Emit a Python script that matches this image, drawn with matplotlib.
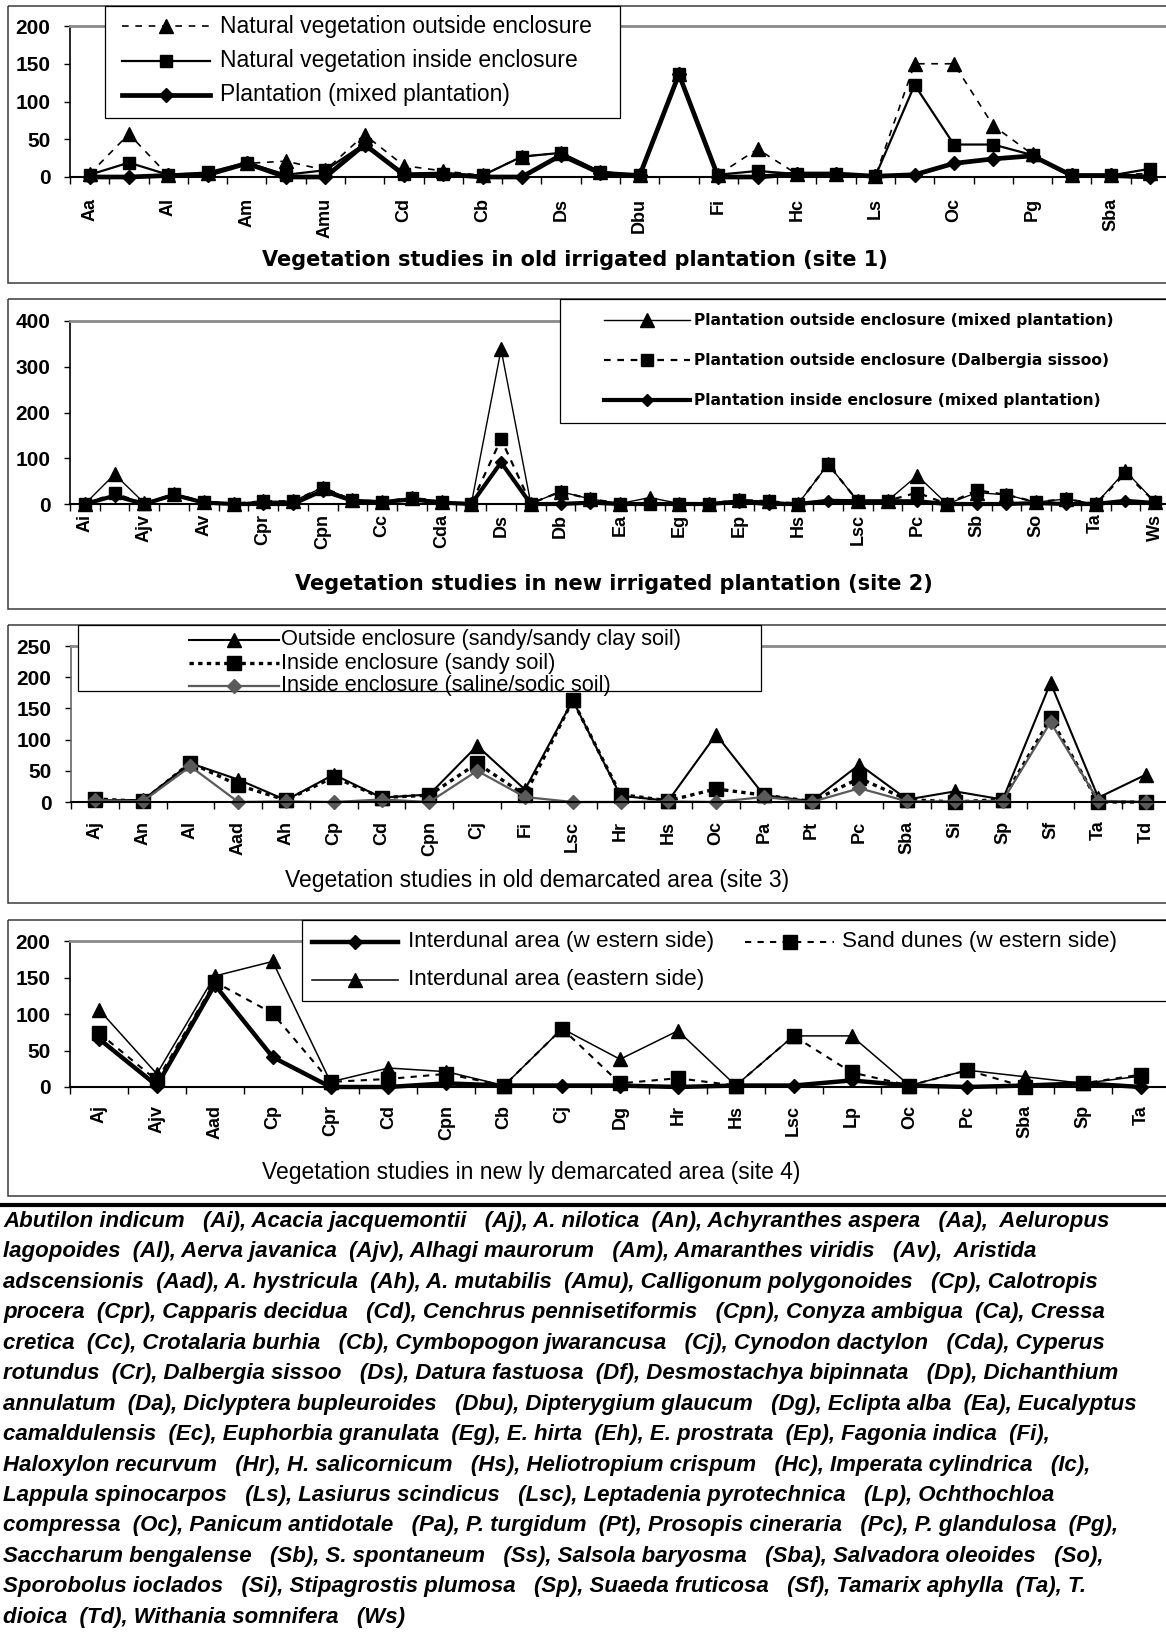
import numpy as np
import matplotlib
matplotlib.use('Agg')
import matplotlib.pyplot as plt
from matplotlib.patches import Rectangle

W, H = 1166, 1641
plt.rcParams['font.family'] = ['Liberation Sans', 'DejaVu Sans']

# ---------------- data ----------------
# Site 1 (every second category is unlabelled in the source)
s1_labels = ['Aa', '', 'Al', '', 'Am', '', 'Amu', '', 'Cd', '', 'Cb', '', 'Ds', '',
             'Dbu', '', 'Fi', '', 'Hc', '', 'Ls', '', 'Oc', '', 'Pg', '', 'Sba', '']
s1_outside = [4, 57, 2, 5, 18, 21, 9, 56, 15, 8, 2, 27, 32, 7, 2, 137, 3, 37, 4, 4, 1, 150, 150, 68, 30, 2, 2, 5]
s1_inside = [3, 19, 3, 6, 19, 3, 9, 44, 4, 4, 2, 27, 32, 7, 2, 136, 3, 8, 4, 4, 1, 122, 43, 43, 29, 2, 2, 11]
s1_plant = [0, 0, 2, 3, 18, 0, 0, 43, 3, 4, 0, 0, 29, 5, 2, 136, 0, 0, 4, 4, 1, 3, 18, 24, 28, 2, 2, 0]
s1_names = ['Natural vegetation outside enclosure', 'Natural vegetation inside enclosure',
            'Plantation (mixed plantation)']

# Site 2
s2_labels = ['Ai', '', 'Ajv', '', 'Av', '', 'Cpr', '', 'Cpn', '', 'Cc', '', 'Cda', '', 'Ds', '',
             'Db', '', 'Ea', '', 'Eg', '', 'Ep', '', 'Hs', '', 'Lsc', '', 'Pc', '', 'Sb', '',
             'So', '', 'Ta', '', 'Ws']
s2_out_mixed = [0, 65, 2, 22, 5, 1, 6, 6, 36, 9, 5, 14, 5, 1, 338, 1, 27, 11, 1, 14, 1, 1, 9, 6, 1,
                87, 6, 7, 62, 0, 25, 20, 4, 11, 0, 72, 4]
s2_out_ds = [0, 23, 1, 22, 5, 1, 6, 6, 36, 9, 5, 14, 5, 1, 142, 1, 27, 11, 1, 1, 1, 1, 9, 6, 1,
             87, 6, 7, 25, 0, 30, 20, 4, 11, 0, 67, 4]
s2_in_mixed = [0, 18, 0, 20, 3, 0, 0, 0, 29, 7, 4, 10, 3, 0, 91, 0, 0, 3, 0, 0, 0, 0, 5, 0, 0,
               7, 6, 6, 6, 0, 0, 0, 2, 0, 0, 7, 2]
s2_names = ['Plantation outside enclosure (mixed plantation)',
            'Plantation outside enclosure (Dalbergia sissoo)',
            'Plantation inside enclosure (mixed plantation)']

# Site 3
s3_labels = ['Aj', 'An', 'Al', 'Aad', 'Ah', 'Cp', 'Cd', 'Cpn', 'Cj', 'Fi', 'Lsc', 'Hr', 'Hs', 'Oc',
             'Pa', 'Pt', 'Pc', 'Sba', 'Si', 'Sp', 'Sf', 'Ta', 'Td']
s3_outside = [3, 3, 62, 36, 3, 44, 7, 12, 90, 20, 163, 10, 2, 108, 11, 1, 60, 4, 17, 4, 191, 7, 44]
s3_sandy = [5, 1, 63, 27, 3, 40, 7, 11, 62, 11, 163, 12, 2, 21, 11, 1, 38, 4, 0, 4, 134, 0, 0]
s3_saline = [3, 1, 57, 0, 1, 0, 4, 0, 50, 8, 0, 0, 1, 0, 8, 0, 22, 1, 1, 2, 128, 2, 0]
s3_names = ['Outside enclosure (sandy/sandy clay soil)', 'Inside enclosure (sandy soil)',
            'Inside enclosure (saline/sodic soil)']

# Site 4
s4_labels = ['Aj', 'Ajv', 'Aad', 'Cp', 'Cpr', 'Cd', 'Cpn', 'Cb', 'Cj', 'Dg', 'Hr', 'Hs', 'Lsc',
             'Lp', 'Oc', 'Pc', 'Sba', 'Sp', 'Ta']
s4_inter_west = [66, 2, 140, 41, 0, 0, 5, 2, 2, 2, 0, 2, 2, 9, 2, 0, 2, 5, 0]
s4_dunes_west = [74, 9, 144, 101, 7, 11, 18, 2, 80, 5, 12, 2, 70, 20, 2, 23, 0, 5, 17]
s4_inter_east = [106, 18, 152, 172, 7, 26, 21, 2, 80, 38, 77, 2, 70, 70, 2, 23, 14, 5, 15]
s4_names = ['Interdunal area (w estern side)', 'Sand dunes (w estern side)',
            'Interdunal area (eastern side)']

titles = ['Vegetation studies in old irrigated plantation (site 1)',
          'Vegetation studies in new irrigated plantation (site 2)',
          'Vegetation studies in old demarcated area (site 3)',
          'Vegetation studies in new ly demarcated area (site 4)']

species_lines = [
    "Abutilon indicum   (Ai), Acacia jacquemontii   (Aj), A. nilotica  (An), Achyranthes aspera   (Aa),  Aeluropus",
    "lagopoides  (Al), Aerva javanica  (Ajv), Alhagi maurorum   (Am), Amaranthes viridis   (Av),  Aristida",
    "adscensionis  (Aad), A. hystricula  (Ah), A. mutabilis  (Amu), Calligonum polygonoides   (Cp), Calotropis",
    "procera  (Cpr), Capparis decidua   (Cd), Cenchrus pennisetiformis   (Cpn), Conyza ambigua  (Ca), Cressa",
    "cretica  (Cc), Crotalaria burhia   (Cb), Cymbopogon jwarancusa   (Cj), Cynodon dactylon   (Cda), Cyperus",
    "rotundus  (Cr), Dalbergia sissoo   (Ds), Datura fastuosa  (Df), Desmostachya bipinnata   (Dp), Dichanthium",
    "annulatum  (Da), Diclyptera bupleuroides   (Dbu), Dipterygium glaucum   (Dg), Eclipta alba  (Ea), Eucalyptus",
    "camaldulensis  (Ec), Euphorbia granulata  (Eg), E. hirta  (Eh), E. prostrata  (Ep), Fagonia indica  (Fi),",
    "Haloxylon recurvum   (Hr), H. salicornicum   (Hs), Heliotropium crispum   (Hc), Imperata cylindrica   (Ic),",
    "Lappula spinocarpos   (Ls), Lasiurus scindicus   (Lsc), Leptadenia pyrotechnica   (Lp), Ochthochloa",
    "compressa  (Oc), Panicum antidotale   (Pa), P. turgidum  (Pt), Prosopis cineraria   (Pc), P. glandulosa  (Pg),",
    "Saccharum bengalense   (Sb), S. spontaneum   (Ss), Salsola baryosma   (Sba), Salvadora oleoides   (So),",
    "Sporobolus ioclados   (Si), Stipagrostis plumosa   (Sp), Suaeda fruticosa   (Sf), Tamarix aphylla  (Ta), T.",
    "dioica  (Td), Withania somnifera   (Ws)",
]

# ---------------- figure ----------------
fig = plt.figure(figsize=(W / 100, H / 100), dpi=100)


def axes_px(left, top, right, bottom):
    return fig.add_axes([left / W, 1 - bottom / H, (right - left) / W, (bottom - top) / H])


def style(ax, labels, ymax, ystep, xpad):
    n = len(labels)
    ax.set_xlim(-0.5, n - 0.5)
    ax.set_ylim(0, ymax)
    ax.set_xticks(range(n))
    ax.set_xticklabels(labels, rotation=90, fontsize=13, fontweight='bold')
    ax.set_xticks(np.arange(n + 1) - 0.5, minor=True)
    ax.tick_params(axis='x', which='major', length=0, pad=xpad)
    ax.tick_params(axis='x', which='minor', length=5, width=1, direction='out')
    ax.set_yticks(np.arange(0, ymax + 1, ystep))
    ax.tick_params(axis='y', length=4, width=1, pad=10, labelsize=15)
    for t in ax.get_yticklabels():
        t.set_fontweight('bold')
    ax.spines['top'].set_color('#8a8a8a')
    ax.spines['top'].set_linewidth(2)
    ax.spines['right'].set_visible(False)
    ax.spines['left'].set_linewidth(1.2)
    ax.spines['bottom'].set_linewidth(1.5)
    ax.patch.set_alpha(0)


R = 1170
tri_dash = dict(marker='^', ms=10, lw=1.2, ls=(0, (4, 4)), color='black')
sq_solid = dict(marker='s', ms=9, lw=1.6, ls='-', color='black')
dia_thick = dict(marker='D', ms=7, lw=3.4, ls='-', color='black')

# Panel 1
ax1 = axes_px(70, 26, R, 177)
x1 = np.arange(len(s1_labels))
ax1.plot(x1, s1_outside, clip_on=False, **tri_dash)
ax1.plot(x1, s1_inside, clip_on=False, **sq_solid)
ax1.plot(x1, s1_plant, clip_on=False, **dia_thick)
style(ax1, s1_labels, 200, 50, 15)

# Panel 2
tri_thin = dict(marker='^', ms=9.5, lw=1.0, ls='-', color='black')
sq_dash2 = dict(marker='s', ms=8.5, lw=1.6, ls=(0, (3, 3)), color='black')
dia_thick2 = dict(marker='D', ms=6.5, lw=3.0, ls='-', color='black')
ax2 = axes_px(70, 321, R, 504)
x2 = np.arange(len(s2_labels))
ax2.plot(x2, s2_out_mixed, clip_on=False, **tri_thin)
ax2.plot(x2, s2_out_ds, clip_on=False, **sq_dash2)
ax2.plot(x2, s2_in_mixed, clip_on=False, **dia_thick2)
style(ax2, s2_labels, 400, 100, 7)

# Panel 3
tri_3 = dict(marker='^', ms=10, lw=1.5, ls='-', color='black')
sq_3 = dict(marker='s', ms=9.5, lw=2.4, ls=(0, (1.3, 1.3)), color='black')
dia_3 = dict(marker='D', ms=7, lw=1.6, ls='-', color='#5a5a5a')
ax3 = axes_px(71, 646, R, 802)
x3 = np.arange(len(s3_labels))
ax3.plot(x3, s3_outside, clip_on=False, **tri_3)
ax3.plot(x3, s3_sandy, clip_on=False, **sq_3)
ax3.plot(x3, s3_saline, clip_on=False, **dia_3)
style(ax3, s3_labels, 250, 50, 13.5)
ax3.spines['left'].set_color('#666666')

# Panel 4
dia_4 = dict(marker='D', ms=7, lw=3.2, ls='-', color='black')
sq_4 = dict(marker='s', ms=10, lw=1.5, ls=(0, (3, 3)), color='black')
tri_4 = dict(marker='^', ms=10, lw=1.1, ls='-', color='black')
ax4 = axes_px(70, 941, R, 1087)
x4 = np.arange(len(s4_labels))
ax4.plot(x4, s4_inter_west, clip_on=False, **dia_4)
ax4.plot(x4, s4_dunes_west, clip_on=False, **sq_4)
ax4.plot(x4, s4_inter_east, clip_on=False, **tri_4)
style(ax4, s4_labels, 200, 50, 13)

# ---------------- overlay (pixel coordinates, y down) ----------------
ov = fig.add_axes([0, 0, 1, 1], zorder=10)
ov.set_xlim(0, W)
ov.set_ylim(H, 0)
ov.axis('off')
ov.patch.set_alpha(0)

for top, bot in [(6, 283), (299, 609), (625, 903), (920, 1196)]:
    ov.add_patch(Rectangle((8, top), W + 20, bot - top, fill=False, ec='#3a3a3a', lw=1.1))


def legend_box(x0, y0, x1, y1):
    ov.add_patch(Rectangle((x0, y0), x1 - x0, y1 - y0, fc='white', ec='black', lw=0.9, zorder=2))


def legend_entry(x0, x1, y, tx, text, st, fs, weight='normal', family=None):
    ov.plot([x0, (x0 + x1) / 2, x1], [y, y, y], markevery=[1], zorder=3, **st)
    kw = {}
    if family:
        kw['family'] = family
    ov.text(tx, y, text, fontsize=fs, fontweight=weight, va='center', ha='left', zorder=3, **kw)


legend_box(105, 6, 620, 118)
for y, st, name in zip([26, 61, 95], [tri_dash, sq_solid, dia_thick], s1_names):
    legend_entry(122, 210, y, 220, name, st, 16.5)

legend_box(560, 299, W + 20, 423)
for y, st, name in zip([320, 360, 400], [tri_thin, sq_dash2, dia_thick2], s2_names):
    legend_entry(604, 690, y, 694, name, st, 11.2, 'bold', ['DejaVu Sans'])

legend_box(78, 625, 761, 691)
for y, st, name in zip([640, 663, 686], [tri_3, sq_3, dia_3], s3_names):
    legend_entry(189, 279, y, 281, name, st, 15.7)

legend_box(302, 920, W + 20, 1001)
legend_entry(312, 398, 942, 408, s4_names[0], dia_4, 16.2)
legend_entry(745, 834, 942, 842, s4_names[1], sq_4, 16.2)
legend_entry(312, 398, 980, 408, s4_names[2], tri_4, 16.2)

# titles
ov.text(575, 260, titles[0], fontsize=15, fontweight='bold', family=['DejaVu Sans'],
        ha='center', va='center')
ov.text(614, 584, titles[1], fontsize=15, fontweight='bold', family=['DejaVu Sans'],
        ha='center', va='center')
ov.text(537, 880, titles[2], fontsize=16.5, ha='center', va='center')
ov.text(531, 1172, titles[3], fontsize=16.5, ha='center', va='center')

ov.plot([0, W], [1205, 1205], color='black', lw=3)

for i, line in enumerate(species_lines):
    ov.text(3, 1221.5 + i * 30.45, line, fontsize=16, fontweight='bold', style='italic',
            ha='left', va='center')

fig.savefig('out.png', dpi=100)
